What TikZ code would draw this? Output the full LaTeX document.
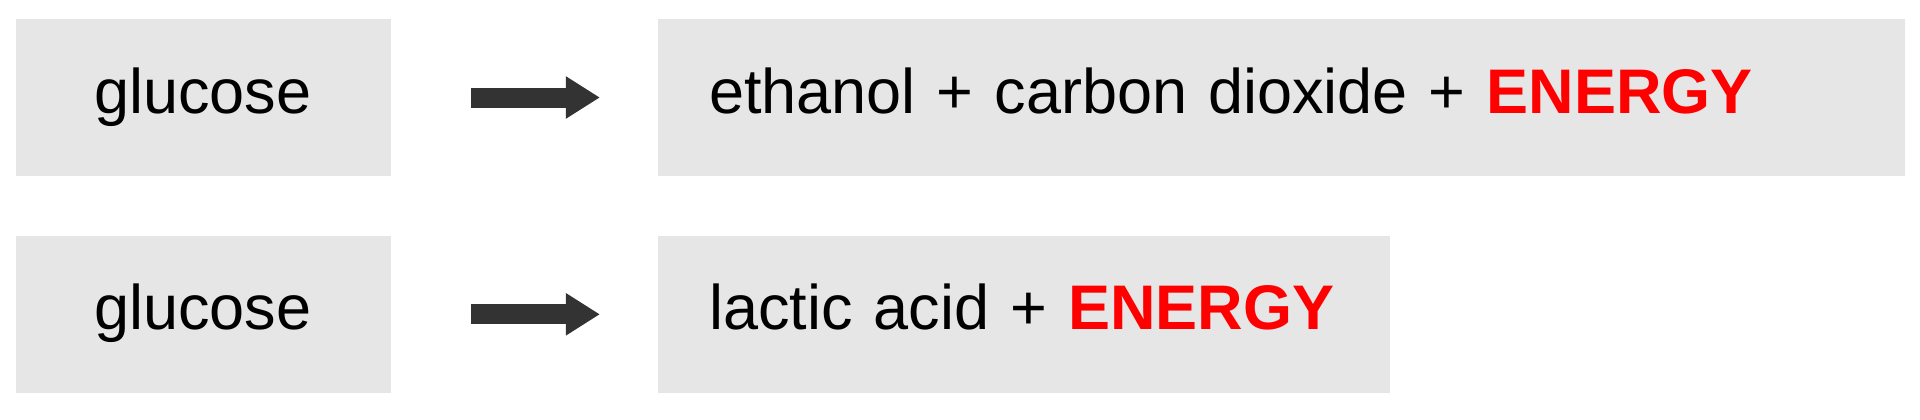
\documentclass[tikz,border=0pt]{standalone}
\usepackage{fontspec}
\setmainfont{Liberation Sans}
\usetikzlibrary{positioning}
\usetikzlibrary{arrows.meta}
\definecolor{boxgray}{RGB}{230,230,230}
\definecolor{arrowgray}{RGB}{51,51,51}
\definecolor{energyred}{RGB}{255,0,0}
\newcommand{\energy}{\textcolor{energyred}{\bfseries ENERGY}}
\tikzset{%
  reactant/.style = {rectangle,fill=boxgray,inner sep=0pt,
        minimum width=187.5pt,minimum height=78.5pt,
        text height=22pt,text depth=6.5pt,
        font=\fontsize{31.5pt}{38pt}\selectfont},
  product/.style = {rectangle,fill=boxgray,inner ysep=0pt,inner xsep=25.5pt,
        minimum height=78.5pt,align=left,
        text height=22pt,text depth=6.5pt,
        font=\fontsize{31.5pt}{38pt}\selectfont},
  yields/.style = {-{Triangle[length=17pt,width=20pt]},line width=10pt,
        arrowgray}
}
\begin{document}
\begin{tikzpicture}
                \useasboundingbox (0,0) rectangle (960pt,-209.5pt);
                \node[reactant] (g1) at (101.5pt,-48.75pt) {glucose};
                \node[reactant] (g2) [below=29.5pt of g1] {glucose};
                \node[product, text width=572.5pt] (p1) [right=133.5pt of g1]
                        {ethanol + carbon dioxide + \energy};
                \node[product, text width=315pt] (p2) [right=133.5pt of g2]
                        {lactic acid + \energy};

                \draw[yields] ([xshift=40pt]g1.east) -- ([xshift=-29pt]p1.west);
                \draw[yields] ([xshift=40pt]g2.east) -- ([xshift=-29pt]p2.west);
            \end{tikzpicture}
\end{document}
